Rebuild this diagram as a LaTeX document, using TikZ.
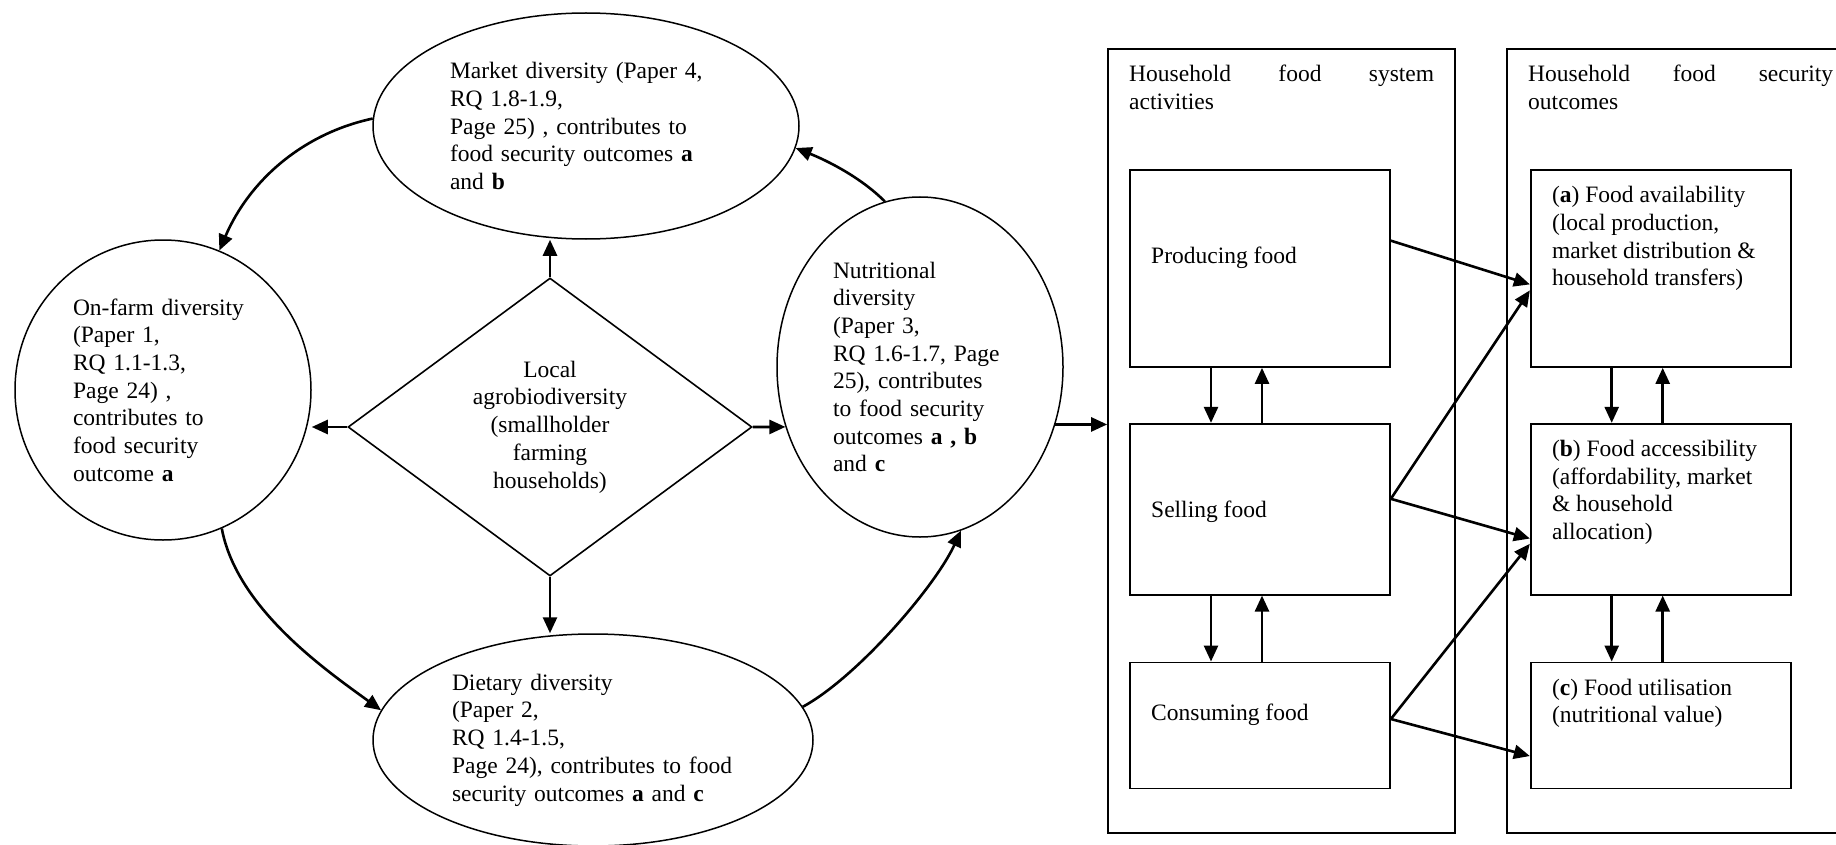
\documentclass[tikz,border=0pt]{standalone}
\usepackage{fontspec}
\setmainfont{Liberation Serif}
\usetikzlibrary{shapes.geometric, positioning, calc, arrows.meta}

\tikzset{
	every node/.style={font=\fontsize{23.5}{27.7}\selectfont},
	diversity/.style={ellipse, draw, line width=1.5pt, inner sep=0pt, align=left},
	stepbox/.style={draw, line width=1.7pt, minimum width=260pt},
	column/.style={draw, line width=1.7pt, minimum height=784pt},
	boxtext/.style={inner sep=0pt, align=left},
	arr/.style={-{Triangle[length=16pt,width=14pt]}, line width=2.6pt},
}

\begin{document}
\begin{tikzpicture}[x=1pt, y=-1pt]
	\useasboundingbox (0,0) rectangle (1836,845);
	\clip (0,0) rectangle (1836,845);

	% left half: agrobiodiversity and the four diversities
	\node[diamond, draw, line width=1.6pt, minimum width=404pt, minimum height=298pt, inner sep=0pt, align=center] (agro) at (550,427) {Local\\agrobiodiversity\\(smallholder\\farming\\households)};
	\node[diversity, minimum width=426pt, minimum height=226pt, text width=272pt] (market) at (586,126) {Market diversity (Paper 4,\\RQ 1.8-1.9,\\Page 25) , contributes to\\food security outcomes \textbf{a}\\and \textbf{b}};
	\node[diversity, minimum width=296pt, minimum height=300pt, text width=180pt] (onfarm) at (163,390) {On-farm diversity\\(Paper 1,\\RQ 1.1-1.3,\\Page 24) ,\\contributes to\\food security\\outcome \textbf{a}};
	\node[diversity, minimum width=286pt, minimum height=340pt, text width=174pt] (nutr) at (920,367) {Nutritional\\diversity\\(Paper 3,\\RQ 1.6-1.7, Page\\25), contributes\\to food security\\outcomes \textbf{a , b}\\and \textbf{c}};
	\node[diversity, minimum width=440pt, minimum height=212pt, text width=282pt] (dietary) at (593,740) {Dietary diversity\\(Paper 2,\\RQ 1.4-1.5,\\Page 24), contributes to food\\security outcomes \textbf{a} and \textbf{c}};

	% right half: activities and outcomes
	\node[column, minimum width=347pt] (actbox) at (1281.5,441) {};
	\node[column, minimum width=353pt] (outbox) at (1683.5,441) {};
	\node[boxtext, anchor=north west, text width=305pt] (acthead) at (1129,65) {Household\hfill food\hfill system\\activities};
	\node[boxtext, anchor=north west, text width=305pt] (outhead) at (1528,65) {Household\hfill food\hfill security\\outcomes};

	\node[stepbox, minimum height=197pt] (prod) at (1260,268.5) {};
	\node[stepbox, minimum height=171pt, below=55pt of prod] (sell) {};
	\node[stepbox, minimum height=126pt, below=66pt of sell] (cons) {};
	\node[stepbox, minimum height=197pt, right=139pt of prod] (avail) {};
	\node[stepbox, minimum height=171pt, right=139pt of sell] (access) {};
	\node[stepbox, minimum height=126pt, right=139pt of cons] (util) {};

	\node[boxtext, anchor=base west] (prodtext) at (1151,263) {Producing food};
	\node[boxtext, anchor=base west] (selltext) at (1151,517) {Selling food};
	\node[boxtext, anchor=base west] (constext) at (1151,720) {Consuming food};
	\node[boxtext, anchor=north west] (availtext) at ([xshift=22pt,yshift=-17pt]avail.north west) {(\textbf{a}) Food availability\\(local production,\\market distribution \&\\household transfers)};
	\node[boxtext, anchor=north west] (accesstext) at ([xshift=22pt,yshift=-17pt]access.north west) {(\textbf{b}) Food accessibility\\(affordability, market\\\& household\\allocation)};
	\node[boxtext, anchor=north west] (utiltext) at ([xshift=22pt,yshift=-17pt]util.north west) {(\textbf{c}) Food utilisation\\(nutritional value)};

	% connectors
	\draw[arr] (agro.north) -- (agro.north |- market.south);
	\draw[arr] (agro.west) -- (agro.west -| onfarm.east);
	\draw[arr] (agro.east) -- (nutr.204);
	\draw[arr] (agro.south) -- (agro.south |- dietary.north);

	\draw[arr] (market.178) .. controls +(-70,15) and +(30,-70) .. (onfarm.68);
	\draw[arr] (onfarm.293) .. controls +(15,80) and +(-55,-40) .. (dietary.172);
	\draw[arr] (dietary.9) .. controls +(55,-30) and +(-25,55) .. (nutr.284);
	\draw[arr] (nutr.102) .. controls +(-25,-25) and +(30,12) .. (market.354);
	\draw[arr] (nutr.337) -- (nutr.337 -| actbox.west);

	\foreach \a/\b in {prod/sell, sell/cons, avail/access, access/util} {
		\draw[arr] ([xshift=-49pt]\a.south) -- ([xshift=-49pt]\b.north);
		\draw[arr] ([xshift=2pt]\b.north) -- ([xshift=2pt]\a.south);
	}

	\draw[arr] ($(prod.north east)!0.36!(prod.south east)$) -- ($(avail.north west)!0.58!(avail.south west)$);
	\draw[arr] ($(sell.north east)!0.44!(sell.south east)$) -- ($(avail.north west)!0.61!(avail.south west)$);
	\draw[arr] ($(sell.north east)!0.44!(sell.south east)$) -- ($(access.north west)!0.67!(access.south west)$);
	\draw[arr] ($(cons.north east)!0.45!(cons.south east)$) -- ($(access.north west)!0.70!(access.south west)$);
	\draw[arr] ($(cons.north east)!0.45!(cons.south east)$) -- ($(util.north west)!0.74!(util.south west)$);
\end{tikzpicture}
\end{document}
